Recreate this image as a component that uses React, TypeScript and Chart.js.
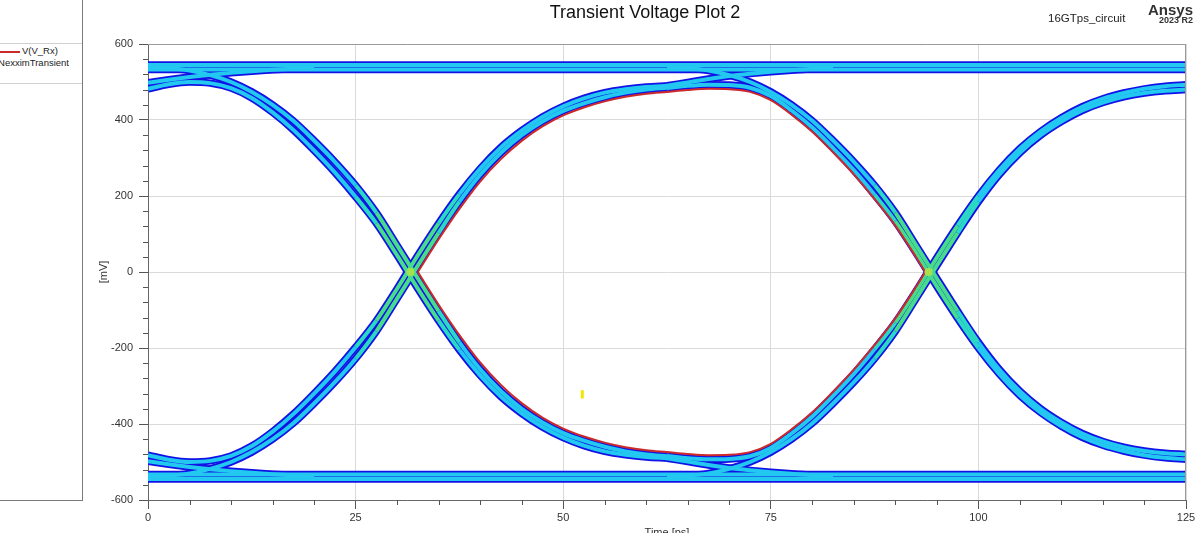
import React, { useEffect, useRef } from 'react';
import { Chart, registerables } from 'chart.js';

Chart.register(...registerables);

// ---------- data ----------
const RAIL_TIME = [0, 125];
const TOP_RAIL_A = [545, 545];
const TOP_RAIL_B = [533, 533];
const BOT_RAIL_A = [-545, -545];
const BOT_RAIL_B = [-533, -533];

const TIME_LEFT = [0, 2.5, 5, 7.5, 10, 12.5, 15, 17.5, 20, 22.5, 25, 27.5, 30, 32.5, 35, 37.5, 40, 42.5, 45, 47.5, 50, 52.5, 55, 57.5, 60, 62.5];
const FALL_A_L = [538, 536, 530, 518, 500, 474, 440, 398, 346, 290, 228, 156, 70, -17, -103, -185, -256, -314, -360, -396, -424, -444, -460, -472, -480, -485];
const FALL_B_L = [482, 494, 500, 497, 484, 458, 420, 374, 320, 262, 198, 128, 44, -44, -128, -205, -272, -328, -372, -408, -436, -457, -472, -481, -487, -490];
const RISE_C_L = [-538, -536, -530, -518, -500, -474, -440, -398, -346, -290, -228, -156, -70, 17, 103, 185, 256, 314, 360, 396, 424, 444, 460, 472, 480, 485];
const RISE_D_L = [-482, -494, -500, -497, -484, -458, -420, -374, -320, -262, -198, -128, -44, 44, 128, 205, 272, 328, 372, 408, 436, 457, 472, 481, 487, 490];

const TIME_RIGHT = [62.5, 65, 67.5, 70, 72.5, 75, 77.5, 80, 82.5, 85, 87.5, 90, 92.5, 95, 97.5, 100, 102.5, 105, 107.5, 110, 112.5, 115, 117.5, 120, 122.5, 125];
const FALL_A_R = [538, 536, 530, 518, 500, 474, 440, 398, 346, 290, 228, 156, 70, -17, -103, -185, -256, -314, -360, -396, -425, -446, -461, -471, -477, -480];
const FALL_B_R = [484, 490, 493, 492, 485, 463, 425, 380, 326, 268, 203, 133, 50, -38, -122, -200, -268, -325, -370, -406, -435, -456, -471, -482, -489, -493];
const RISE_C_R = [-538, -536, -530, -518, -500, -474, -440, -398, -346, -290, -228, -156, -70, 17, 103, 185, 256, 314, 360, 396, 425, 446, 461, 471, 477, 480];
const RISE_D_R = [-484, -490, -493, -492, -485, -463, -425, -380, -326, -268, -203, -133, -50, 38, 122, 200, 268, 325, 370, 406, 435, 456, 471, 482, 489, 493];

const SETTLE_TIME_L = [0, 2.5, 5, 7.5, 10, 12.5, 15, 17.5, 20];
const SETTLE_HIGH_L = [498, 506, 513, 519, 524, 528, 532, 535, 537];
const SETTLE_LOW_L = [-498, -506, -513, -519, -524, -528, -532, -535, -537];
const SETTLE_TIME_R = [62.5, 65, 67.5, 70, 72.5, 75, 77.5, 80, 82.5];
const SETTLE_HIGH_R = [490, 499, 508, 516, 522, 527, 531, 535, 537];
const SETTLE_LOW_R = [-490, -499, -508, -516, -522, -527, -531, -535, -537];

const RED_TIME = [32.5, 35, 37.5, 40, 42.5, 45, 47.5, 50, 52.5, 55, 57.5, 60, 62.5, 65, 67.5, 70, 72.5, 75, 77.5, 80, 82.5, 85, 87.5, 90, 92.5, 93.6];
const RED_TOP = [0, 86, 166, 238, 297, 345, 383, 412, 433, 449, 461, 469, 474, 479, 482, 481, 474, 452, 414, 369, 315, 257, 192, 122, 39, 0];
const RED_BOT = [0, -86, -166, -238, -297, -345, -383, -412, -433, -449, -461, -469, -474, -479, -482, -481, -474, -452, -414, -369, -315, -257, -192, -122, -39, 0];

const CROSS_X = [31.6, 94.0];
const CROSS_Y = [0, 0];
const MARK_X = [52.3, 52.3];
const MARK_Y = [-311, -333];

const X_MIN = 0, X_MAX = 125, X_STEP = 5, X_MAJOR = 25;
const Y_MIN = -600, Y_MAX = 600, Y_STEP = 40, Y_MAJOR = 200;

const FONT = '"Liberation Sans", Arial, Helvetica, sans-serif';
const BLUE = '#1212e6';
const CYAN = '#22c8f0';
const TEAL = '#2ad8c4';
const GREEN = '#46dc8c';
const RED = '#cc2a2a';

function pts(xs: number[], ys: number[]) {
  return xs.map((x, i) => ({ x, y: ys[i] }));
}
const isMajor = (v: number, m: number) => Math.abs(v / m - Math.round(v / m)) < 1e-6;

const framePlugin = {
  id: 'frameAndMinor',
  afterDraw(chart: any) {
    const { ctx, chartArea: a, scales } = chart;
    ctx.save();
    ctx.lineWidth = 1;
    ctx.strokeStyle = '#9a9a9a';
    ctx.beginPath();
    ctx.moveTo(a.left, a.top + 0.5);
    ctx.lineTo(a.right, a.top + 0.5);
    ctx.moveTo(a.right - 0.5, a.top);
    ctx.lineTo(a.right - 0.5, a.bottom);
    ctx.stroke();
    ctx.strokeStyle = '#555';
    ctx.beginPath();
    for (const t of scales.y.ticks) {
      if (isMajor(t.value, Y_MAJOR)) continue;
      const py = Math.round(scales.y.getPixelForValue(t.value)) + 0.5;
      ctx.moveTo(a.left - 5, py);
      ctx.lineTo(a.left, py);
    }
    for (const t of scales.x.ticks) {
      if (isMajor(t.value, X_MAJOR)) continue;
      const px = Math.round(scales.x.getPixelForValue(t.value)) + 0.5;
      ctx.moveTo(px, a.bottom);
      ctx.lineTo(px, a.bottom + 5);
    }
    ctx.stroke();
    ctx.restore();
  },
};

export default function App() {
  const ref = useRef<HTMLCanvasElement>(null);

  useEffect(() => {
    if (!ref.current) return;
    const traces = [
      pts(RAIL_TIME, TOP_RAIL_A), pts(RAIL_TIME, TOP_RAIL_B),
      pts(RAIL_TIME, BOT_RAIL_A), pts(RAIL_TIME, BOT_RAIL_B),
      pts(SETTLE_TIME_L, SETTLE_HIGH_L), pts(SETTLE_TIME_L, SETTLE_LOW_L),
      pts(SETTLE_TIME_R, SETTLE_HIGH_R), pts(SETTLE_TIME_R, SETTLE_LOW_R),
      pts(TIME_LEFT, FALL_A_L), pts(TIME_LEFT, FALL_B_L),
      pts(TIME_LEFT, RISE_C_L), pts(TIME_LEFT, RISE_D_L),
      pts(TIME_RIGHT, FALL_A_R), pts(TIME_RIGHT, FALL_B_R),
      pts(TIME_RIGHT, RISE_C_R), pts(TIME_RIGHT, RISE_D_R),
    ];
    const near = (x: number) => Math.min(...CROSS_X.map((c) => Math.abs(c - x)));
    const datasets: any[] = [];
    traces.forEach((data) => {
      datasets.push({ data, borderColor: BLUE, borderWidth: 7.5, order: 10 });
      datasets.push({
        data,
        borderColor: CYAN,
        borderWidth: 4,
        order: 5,
        segment: {
          borderColor: (c: any) => {
            const d = near((c.p0.parsed.x + c.p1.parsed.x) / 2);
            return d < 3.2 ? GREEN : d < 6.5 ? TEAL : CYAN;
          },
        },
      });
    });
    datasets.push({ data: pts(RED_TIME, RED_TOP), borderColor: RED, borderWidth: 2, order: 2 });
    datasets.push({ data: pts(RED_TIME, RED_BOT), borderColor: RED, borderWidth: 2, order: 2 });
    datasets.push({
      data: pts(CROSS_X, CROSS_Y), showLine: false, pointRadius: 4, pointBorderWidth: 0,
      pointBackgroundColor: '#a6e050', order: 1,
    });
    datasets.push({ data: pts(MARK_X, MARK_Y), borderColor: '#f2e600', borderWidth: 3, order: 0 });

    const tickFont = { family: FONT, size: 11 };
    const chart = new Chart(ref.current, {
      type: 'line',
      data: { datasets },
      plugins: [framePlugin],
      options: {
        responsive: true,
        maintainAspectRatio: false,
        animation: false,
        events: [],
        datasets: { line: { pointRadius: 0, fill: false, cubicInterpolationMode: 'monotone', clip: 0 } as any },
        layout: { padding: { left: 90, top: 44, right: 14, bottom: 0 } },
        plugins: { legend: { display: false }, tooltip: { enabled: false }, title: { display: false } },
        scales: {
          x: {
            type: 'linear', min: X_MIN, max: X_MAX,
            ticks: {
              stepSize: X_STEP, autoSkip: false, maxRotation: 0, padding: 2, color: '#333', font: tickFont,
              callback: (v: any) => (isMajor(Number(v), X_MAJOR) ? String(Math.round(Number(v))) : ''),
            },
            grid: {
              color: (c: any) => (isMajor(c.tick.value, X_MAJOR) ? '#dadada' : 'rgba(0,0,0,0)'),
              tickColor: (c: any) => (isMajor(c.tick.value, X_MAJOR) ? '#555' : 'rgba(0,0,0,0)'),
              tickLength: 9,
            },
            border: { color: '#666', width: 1 },
            title: { display: true, text: 'Time [ps]', color: '#333', font: tickFont, padding: { top: 0, bottom: -7 } },
            afterFit: (s: any) => { s.height = 33; },
          },
          y: {
            type: 'linear', min: Y_MIN, max: Y_MAX,
            ticks: {
              stepSize: Y_STEP, autoSkip: false, padding: 6, color: '#333', font: tickFont,
              callback: (v: any) => (isMajor(Number(v), Y_MAJOR) ? String(Math.round(Number(v))) : ''),
            },
            grid: {
              color: (c: any) => (isMajor(c.tick.value, Y_MAJOR) ? '#dadada' : 'rgba(0,0,0,0)'),
              tickColor: (c: any) => (isMajor(c.tick.value, Y_MAJOR) ? '#555' : 'rgba(0,0,0,0)'),
              tickLength: 9,
            },
            border: { color: '#666', width: 1 },
            title: { display: true, text: '[mV]', color: '#333', font: tickFont, padding: { top: 7, bottom: 0 } },
            afterFit: (s: any) => { s.width = 58; },
          },
        },
      } as any,
    });
    return () => chart.destroy();
  }, []);

  const abs = (o: any) => ({ position: 'absolute' as const, whiteSpace: 'nowrap' as const, ...o });

  return (
    <div style={{ position: 'fixed', left: 0, top: 0, width: 1200, height: 533, background: '#fff', fontFamily: FONT, overflow: 'hidden' }}>
      <canvas ref={ref} style={{ position: 'absolute', left: 0, top: 0, width: 1200, height: 533 }} />
      <div style={abs({ left: 0, top: 0, width: 83, height: 501, borderRight: '1px solid #7a7a7a', borderBottom: '1px solid #7a7a7a', boxSizing: 'border-box', overflow: 'hidden', background: '#fff' })}>
        <div style={abs({ left: 0, top: 43, width: 82, height: 1, background: '#d0d0d0' })} />
        <div style={abs({ left: 0, top: 51, width: 20, height: 2, background: RED })} />
        <div style={abs({ left: 22, top: 45, fontSize: 9.5, lineHeight: '12px', color: '#222' })}>V(V_Rx)</div>
        <div style={abs({ right: 13, top: 57, fontSize: 9.5, lineHeight: '12px', color: '#222' })}>NexximTransient</div>
        <div style={abs({ left: 0, top: 83, width: 82, height: 1, background: '#d0d0d0' })} />
      </div>
      <div style={abs({ left: 0, width: 1290, top: 1, textAlign: 'center', fontSize: 18, lineHeight: '22px', color: '#111' })}>Transient Voltage Plot 2</div>
      <div style={abs({ left: 1048, top: 11, fontSize: 11.5, lineHeight: '14px', color: '#222' })}>16GTps_circuit</div>
      <div style={abs({ right: 7, top: 1, fontSize: 15, fontWeight: 'bold', lineHeight: '17px', color: '#333' })}>Ansys</div>
      <div style={abs({ right: 7, top: 15, fontSize: 9, fontWeight: 'bold', lineHeight: '11px', color: '#333' })}>2023 R2</div>
    </div>
  );
}
